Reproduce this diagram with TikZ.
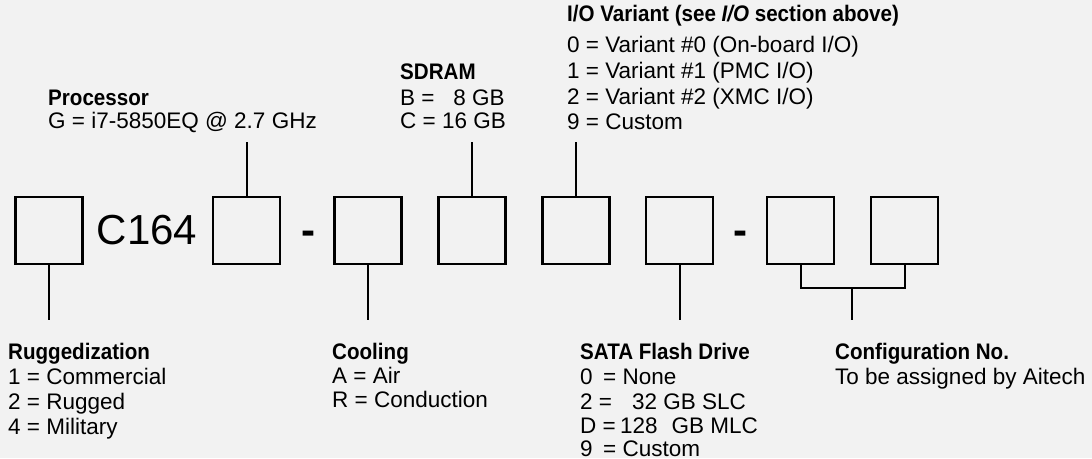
\documentclass[tikz,border=0pt]{standalone}
\usepackage{fontspec}
\setmainfont{Liberation Sans}
\newfontfamily\ttlfont{Liberation Sans}[FakeStretch=0.915]
\definecolor{bgc}{HTML}{F2F2F2}
\begin{document}
\begin{tikzpicture}[x=1pt,y=-1pt,
  box/.style={draw=black, line width=2.5pt, minimum width=67pt, minimum height=67pt, inner sep=0pt},
  conn/.style={draw=black, line width=2pt},
  txt/.style={anchor=base west, inner sep=0pt, font=\fontsize{22.5}{26}\selectfont},
  ttl/.style={anchor=base west, inner sep=0pt, font=\fontsize{22.5}{26}\selectfont\ttlfont\bfseries},
  big/.style={anchor=base, inner sep=0pt, font=\fontsize{42}{48}\selectfont},
  dsh/.style={anchor=base, inner sep=0pt, font=\fontsize{42}{48}\selectfont\bfseries}]
\fill[bgc] (0,0) rectangle (1092,458);
\useasboundingbox (0,0) rectangle (1092,458);
% boxes
\node[box] (b1) at (49,230.5) {};
\node[big] (c164) at (147,244) {C164};
\node[box] (b2) at (246.5,230.5) {};
\node[dsh] (d1) at (308,244) {-};
\node[box] (b3) at (368,230.5) {};
\node[box] (b4) at (472,230.5) {};
\node[box] (b5) at (576,230.5) {};
\node[box] (b6) at (679.5,230.5) {};
\node[dsh] (d2) at (740,244) {-};
\node[box] (b7) at (800.5,230.5) {};
\node[box] (b8) at (904.5,230.5) {};
% connector ends
\coordinate (t2) at (246.5,142);
\coordinate (t4) at (472,142);
\coordinate (t5) at (576,142);
\coordinate (u1) at (49,320);
\coordinate (u3) at (368,320);
\coordinate (u6) at (679.5,320);
\coordinate (k) at (852,288);
\coordinate (u7) at (852,320);
\draw[conn] (b2.north) -- (t2);
\draw[conn] (b4.north) -- (t4);
\draw[conn] (b5.north) -- (t5);
\draw[conn] (b1.south) -- (u1);
\draw[conn] (b3.south) -- (u3);
\draw[conn] (b6.south) -- (u6);
\draw[conn] (b7.south) -- (b7.south |- k) -- (b8.south |- k) -- (b8.south);
\draw[conn] (k) -- (u7);
% top labels
\node[ttl] (p0) at (48,105) {Processor};
\node[txt] (p1) at (48,128) {G = i7-5850EQ @ 2.7 GHz};
\node[ttl] (s0) at (400,79) {SDRAM};
\node[txt] (s1) at (400,105) {B = \phantom{1}8 GB};
\node[txt] (s2) at (400,128) {C = 16 GB};
\node[ttl] (v0) at (567,21) {I/O Variant (see \textit{I/O} section above)};
\node[txt] (v1) at (567,52) {0 = Variant \#0 (On-board I/O)};
\node[txt] (v2) at (567,78) {1 = Variant \#1 (PMC I/O)};
\node[txt] (v3) at (567,104) {2 = Variant \#2 (XMC I/O)};
\node[txt] (v4) at (567,129) {9 = Custom};
% bottom labels
\node[ttl] (r0) at (8,359) {Ruggedization};
\node[txt] (r1) at (8,384) {1 = Commercial};
\node[txt] (r2) at (8,409) {2 = Rugged};
\node[txt] (r3) at (8,434) {4 = Military};
\node[ttl] (c0) at (332,359) {Cooling};
\node[txt] (c1) at (332,383) {A = Air};
\node[txt] (c2) at (332,407) {R = Conduction};
\node[ttl] (f0) at (580,359) {SATA Flash Drive};
\node[txt] (f1) at (580,384) {\makebox[23pt][l]{0}= None};
\node[txt] (f2) at (580,409) {\makebox[52pt][l]{2 =}32 GB SLC};
\node[txt] (f3) at (580,433) {\makebox[40pt][l]{D =}128\hspace{14pt}GB MLC};
\node[txt] (f4) at (580,456) {\makebox[23pt][l]{9}= Custom};
\node[ttl] (g0) at (835,359) {Configuration No.};
\node[txt] (g1) at (835,384) {To be assigned by Aitech};
\end{tikzpicture}
\end{document}
